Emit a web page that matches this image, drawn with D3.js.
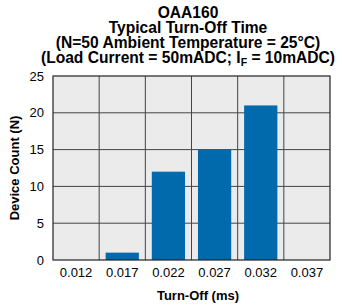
<!DOCTYPE html>
<html>
<head>
<meta charset="utf-8">
<script src="https://cdn.jsdelivr.net/npm/d3@7"></script>
<style>
  body { margin: 0; background: #fff; }
  text { font-family: "Liberation Sans", Arial, sans-serif; }
</style>
</head>
<body>
<div class="view1"></div>
<script>
// chart data
const categories = ["0.012", "0.017", "0.022", "0.027", "0.032", "0.037"];
const counts = [0, 1, 12, 15, 21, 0];
const yTicks = [0, 5, 10, 15, 20, 25];

const width = 342, height = 308;
const margin = {top: 76, right: 12, bottom: 48, left: 53};
const plotW = width - margin.left - margin.right;
const plotH = height - margin.top - margin.bottom;

let svg = d3.select(".view1").append("svg")
    .attr("width", width)
    .attr("height", height);

// title block
let titleLines = ["OAA160", "Typical Turn-Off Time", "(N=50 Ambient Temperature = 25°C)"];
svg.selectAll("text.title")
    .data(titleLines)
    .enter().append("text")
    .attr("class", "title")
    .attr("x", 188)
    .attr("y", (d, i) => 18 + i * 15)
    .attr("text-anchor", "middle")
    .attr("font-weight", "bold")
    .attr("font-size", 15.6)
    .text(d => d);

let last = svg.append("text")
    .attr("x", 188)
    .attr("y", 63)
    .attr("text-anchor", "middle")
    .attr("font-weight", "bold")
    .attr("font-size", 15.6);
last.append("tspan").text("(Load Current = 50mADC; I");
last.append("tspan").attr("font-size", 10.5).attr("dy", 3).text("F");
last.append("tspan").attr("dy", -3).text(" = 10mADC)");

let g = svg.append("g")
    .attr("transform", "translate(" + margin.left + "," + margin.top + ")");

let x = d3.scaleBand().domain(categories).range([0, plotW]).paddingInner(0.28).paddingOuter(0.14);
let xGrid = d3.scaleBand().domain(categories).range([0, plotW]);
let y = d3.scaleLinear().domain([0, 25]).range([plotH, 0]);

// plot background
g.append("rect")
    .attr("width", plotW)
    .attr("height", plotH)
    .attr("fill", "#ebebeb");

// horizontal grid
g.selectAll("line.hgrid")
    .data(yTicks.slice(1, -1))
    .enter().append("line")
    .attr("x1", 0).attr("x2", plotW)
    .attr("y1", d => y(d)).attr("y2", d => y(d))
    .attr("stroke", "#444").attr("stroke-width", 1);

// vertical grid at band edges
g.selectAll("line.vgrid")
    .data(categories.slice(1))
    .enter().append("line")
    .attr("x1", d => xGrid(d)).attr("x2", d => xGrid(d))
    .attr("y1", 0).attr("y2", plotH)
    .attr("stroke", "#444").attr("stroke-width", 1);

// bars
g.selectAll("rect.bar")
    .data(counts)
    .enter().append("rect")
    .attr("class", "bar")
    .attr("x", (d, i) => x(categories[i]))
    .attr("width", x.bandwidth())
    .attr("y", d => y(d))
    .attr("height", d => plotH - y(d))
    .attr("fill", "#006aad");

// frame
g.append("rect")
    .attr("width", plotW)
    .attr("height", plotH)
    .attr("fill", "none")
    .attr("stroke", "#222").attr("stroke-width", 1.2);

// y tick labels
g.selectAll("text.ytick")
    .data(yTicks)
    .enter().append("text")
    .attr("x", -9)
    .attr("y", d => y(d))
    .attr("dy", "0.35em")
    .attr("text-anchor", "end")
    .attr("font-size", 13)
    .text(d => d);

// x tick labels
g.selectAll("text.xtick")
    .data(categories)
    .enter().append("text")
    .attr("x", d => xGrid(d) + xGrid.bandwidth() / 2)
    .attr("y", plotH + 17)
    .attr("text-anchor", "middle")
    .attr("font-size", 13)
    .text(d => d);

// axis titles
svg.append("text")
    .attr("x", 198)
    .attr("y", 300)
    .attr("text-anchor", "middle")
    .attr("font-weight", "bold")
    .attr("font-size", 13)
    .text("Turn-Off (ms)");

svg.append("text")
    .attr("transform", "translate(19," + (margin.top + plotH / 2) + ") rotate(-90)")
    .attr("text-anchor", "middle")
    .attr("font-weight", "bold")
    .attr("font-size", 13)
    .text("Device Count (N)");
</script>
</body>
</html>
